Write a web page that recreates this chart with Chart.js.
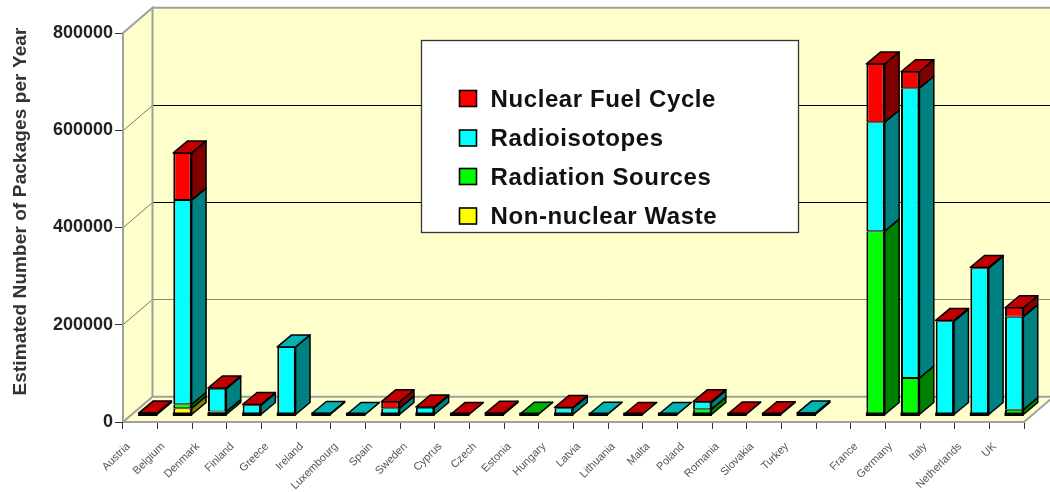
<!DOCTYPE html>
<html><head><meta charset="utf-8">
<style>html,body{margin:0;padding:0;background:#fff}canvas{display:block;filter:blur(0.45px)}</style>
<script src="https://cdn.jsdelivr.net/npm/chart.js@4"></script>
</head><body><canvas id="c" width="1050" height="492"></canvas>
<script>
const categories = ["Austria","Belgium","Denmark","Finland","Greece","Ireland","Luxembourg","Spain","Sweden","Cyprus","Czech","Estonia","Hungary","Latvia","Lithuania","Malta","Poland","Romania","Slovakia","Turkey","","France","Germany","Italy","Netherlands","UK"];
const nonNuclearWaste = [null,14000,null,null,null,null,null,null,null,null,null,null,null,null,null,null,null,null,null,null,null,null,null,null,null,null];
const radiationSources = [null,8000,7000,null,null,null,null,null,null,null,null,1500,null,null,null,null,12000,null,null,null,null,378000,76000,null,null,11000];
const radioisotopes = [null,420000,47000,20000,140000,3000,1000,14000,15000,null,null,null,14000,1500,null,1000,14000,null,null,4000,null,224000,596000,193000,302000,191000];
const nuclearFuelCycle = [4000,97000,1500,1500,null,null,null,13000,1500,1000,3500,null,1500,null,1000,null,1500,2000,2500,null,null,120000,34000,1500,1500,18500];
const seriesNames = ["Non-nuclear Waste","Radiation Sources","Radioisotopes","Nuclear Fuel Cycle"];
const frontColors = ["#ffff00","#00ff00","#00ffff","#ff0000"];
const sideColors = ["#808000","#008000","#008080","#800000"];
const topColors = ["#b0b000","#00b000","#00b4b4","#c00000"];
const yTicks = [0,200000,400000,600000,800000];
const yTitle = "Estimated Number of Packages per Year";
const WALL = {dx:29.5, dy:-25.3}, BAR = {dx:14.4, dy:-12, sx:7.5, sy:-7};
const LEGEND = {x:421.5,y:40.5,w:377,h:192,swatchX:459.5,swatchW:17,swatchH:16,textX:490.5,baselines:[106.5,146,184.5,224]};

function poly(ctx, pts, fill, stroke, lw){
  ctx.beginPath();
  pts.forEach((p,i)=> i?ctx.lineTo(p[0],p[1]):ctx.moveTo(p[0],p[1]));
  ctx.closePath();
  if(fill){ctx.fillStyle=fill;ctx.fill();}
  if(stroke){ctx.strokeStyle=stroke;ctx.lineWidth=lw;ctx.lineJoin='round';ctx.stroke();}
}
const scene = {
  id:'scene',
  beforeDatasetsDraw(chart){
    const {ctx,chartArea:a,scales:{y}} = chart, dx=WALL.dx, dy=WALL.dy;
    ctx.save();
    poly(ctx,[[a.left,a.top],[a.left+dx,a.top+dy],[a.right+dx,a.top+dy],[a.right+dx,a.bottom+dy],[a.right,a.bottom],[a.left,a.bottom]],'#ffffcc');
    yTicks.forEach(v=>{
      if(v===0||v===800000) return;
      const p=Math.round(y.getPixelForValue(v)+dy)+0.5;
      ctx.strokeStyle= v===200000?'#8a8a70':'#000';ctx.lineWidth=1;
      ctx.beginPath();ctx.moveTo(a.left+dx,p);ctx.lineTo(a.right+dx,p);ctx.stroke();
      ctx.strokeStyle='#777';ctx.lineWidth=1;
      ctx.beginPath();ctx.moveTo(a.left,p-dy);ctx.lineTo(a.left+dx,p);ctx.stroke();
    });
    ctx.strokeStyle='#a0a0a0';ctx.lineWidth=2;
    ctx.beginPath();
    ctx.moveTo(a.left,a.bottom);ctx.lineTo(a.left,a.top);ctx.lineTo(a.left+dx,a.top+dy);ctx.lineTo(a.left+dx,a.bottom+dy);ctx.lineTo(a.left,a.bottom);
    ctx.moveTo(a.left+dx,a.top+dy);ctx.lineTo(a.right+dx,a.top+dy);
    ctx.moveTo(a.left+dx,a.bottom+dy);ctx.lineTo(a.right+dx,a.bottom+dy);ctx.lineTo(a.right,a.bottom);ctx.lineTo(a.left,a.bottom);
    ctx.stroke();
    ctx.translate(BAR.sx,BAR.sy);
    const d=chart.data.datasets;
    categories.forEach((c,j)=>{
      let top=-1;
      d.forEach((ds,i)=>{ if(ds.data[j]!=null) top=i; });
      d.forEach((ds,i)=>{
        if(ds.data[j]==null) return;
        const e=chart.getDatasetMeta(i).data[j], r=e.x+e.width/2;
        poly(ctx,[[r,e.y],[r+BAR.dx,e.y+BAR.dy],[r+BAR.dx,e.base+BAR.dy],[r,e.base]],sideColors[i],'#000',1.5);
      });
      if(top>=0){
        const e=chart.getDatasetMeta(top).data[j], l=e.x-e.width/2, r=e.x+e.width/2;
        poly(ctx,[[l,e.y],[l+BAR.dx,e.y+BAR.dy],[r+BAR.dx,e.y+BAR.dy],[r,e.y]],topColors[top],'#000',1.5);
      }
    });
    ctx.restore();
    ctx.save();ctx.translate(BAR.sx,BAR.sy);
  },
  afterDatasetsDraw(chart){
    const ctx=chart.ctx, y0=chart.scales.y.getPixelForValue(0);
    categories.forEach((c,j)=>{
      for(let i=0;i<4;i++){
        if(chart.data.datasets[i].data[j]==null) continue;
        const e=chart.getDatasetMeta(i).data[j];
        ctx.fillStyle='#000';ctx.fillRect(e.x-e.width/2-0.5,y0-2.5,e.width+1,3.5);
        break;
      }
    });
    ctx.restore();
    ctx.save();
    ctx.translate(25.5,211.5);ctx.rotate(-Math.PI/2);
    ctx.font='bold 19px "Liberation Sans"';ctx.fillStyle='#333';ctx.textAlign='center';ctx.textBaseline='alphabetic';
    ctx.letterSpacing='0.1px';
    ctx.fillText(yTitle,0,0);
    ctx.restore();
    ctx.save();
    const L=LEGEND;
    ctx.fillStyle='#fff';ctx.fillRect(L.x,L.y,L.w,L.h);
    ctx.strokeStyle='#333';ctx.lineWidth=1.3;ctx.strokeRect(L.x,L.y,L.w,L.h);
    ctx.font='bold 24px "Liberation Sans"';ctx.textBaseline='alphabetic';ctx.textAlign='left';
    ctx.letterSpacing='0.6px';
    [3,2,1,0].forEach((s,k)=>{
      const b=L.baselines[k], t=b-L.swatchH;
      ctx.fillStyle=frontColors[s];ctx.fillRect(L.swatchX,t,L.swatchW,L.swatchH);
      ctx.strokeStyle='#000';ctx.lineWidth=1.6;ctx.strokeRect(L.swatchX,t,L.swatchW,L.swatchH);
      ctx.fillStyle='#111';ctx.fillText(seriesNames[s],L.textX,b);
    });
    ctx.restore();
  }
};
new Chart(document.getElementById('c'),{
  type:'bar',
  data:{labels:categories,datasets:[nonNuclearWaste,radiationSources,radioisotopes,nuclearFuelCycle].map((v,i)=>({
    label:seriesNames[i],data:v,backgroundColor:frontColors[i],borderColor:'#000',
    borderWidth:{left:2,right:2,top:1,bottom:1},borderSkipped:false,
    barPercentage:1,categoryPercentage:0.53,clip:false}))},
  options:{
    responsive:false,animation:false,
    layout:{padding:{top:33,right:26,left:0,bottom:0}},
    plugins:{legend:{display:false},tooltip:{enabled:false}},
    scales:{
      x:{stacked:true,offset:true,
        afterFit(s){s.height=70;},
        grid:{drawOnChartArea:false,drawTicks:true,tickLength:7,color:'#333',offset:true},
        border:{display:false},
        ticks:{autoSkip:false,minRotation:45,maxRotation:45,labelOffset:-12,padding:11,color:'#555',font:{family:'"Liberation Sans"',size:11}}},
      y:{stacked:true,min:0,max:800000,
        afterFit(s){s.width=123;},
        afterBuildTicks(s){s.ticks=yTicks.map(v=>({value:v}));},
        grid:{drawOnChartArea:false,drawTicks:true,tickLength:8,color:'#333'},
        border:{display:false},
        ticks:{padding:2,color:'#222',font:{family:'"Liberation Sans"',size:18,weight:'bold'},callback:v=>String(v)}}
    }
  },
  plugins:[scene]
});
</script></body></html>
